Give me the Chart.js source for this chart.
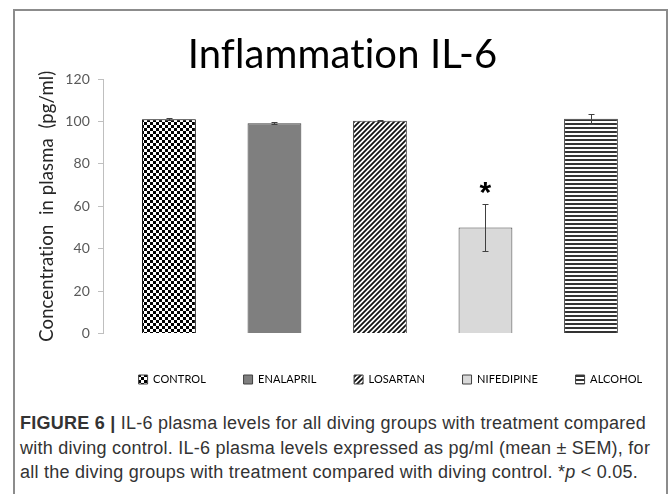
<!DOCTYPE html>
<html lang="en">
<head>
<meta charset="UTF-8">
<title>Inflammation IL-6</title>
<script src="https://cdn.jsdelivr.net/npm/chart.js"></script>
<style>
  body { margin: 0; background: #fff; width: 670px; height: 494px; overflow: hidden; position: relative; }
  .frame { position: absolute; left: 13px; top: 9px; width: 651px; height: 500px; border: 2px solid #8c8c8c; border-bottom: none; }
  #chart { position: absolute; left: 15px; top: 11px; }
  .caption { position: absolute; left: 20px; top: 411px; font-family: "Liberation Sans", Arial, sans-serif; font-size: 18px; letter-spacing: 0.25px; line-height: 24.5px; color: #333; white-space: nowrap; }
</style>
</head>
<body>
<div class="frame"></div>
<canvas id="chart" width="655" height="389"></canvas>
<div class="caption"><b>FIGURE 6 |</b> IL-6 plasma levels for all diving groups with treatment compared<br>with diving control. IL-6 plasma levels expressed as pg/ml (mean ± SEM), for<br>all the diving groups with treatment compared with diving control. *<i>p</i> &lt; 0.05.</div>
<script>
// values
const categories = ['CONTROL', 'ENALAPRIL', 'LOSARTAN', 'NIFEDIPINE', 'ALCOHOL'];
const means = [101.0, 99.1, 100.3, 50.0, 101.2];
const sem = [0.5, 0.5, 0.3, 11.2, 2.4];
const marks = ['', '', '', '*', ''];
const yTicks = [0, 20, 40, 60, 80, 100, 120];

const ctx = document.getElementById('chart').getContext('2d');

function tile(w, h, draw) {
  const c = document.createElement('canvas');
  c.width = w; c.height = h;
  const g = c.getContext('2d');
  g.fillStyle = '#fff';
  g.fillRect(0, 0, w, h);
  draw(g);
  return ctx.createPattern(c, 'repeat');
}

const checker = tile(6, 6, g => {
  g.fillStyle = '#000';
  g.fillRect(0, 0, 3, 3);
  g.fillRect(3, 3, 3, 3);
});
const diagonal = tile(5, 5, g => {
  g.strokeStyle = '#111';
  g.lineWidth = 1.8;
  g.beginPath();
  g.moveTo(0, 5); g.lineTo(5, 0);
  g.moveTo(-1, 1); g.lineTo(1, -1);
  g.moveTo(4, 6); g.lineTo(6, 4);
  g.stroke();
});
const horizontal = tile(1, 4, g => {
  g.fillStyle = '#333';
  g.fillRect(0, 0, 1, 2);
});

const fills = [checker, '#7f7f7f', diagonal, '#d9d9d9', horizontal];
const borders = ['#000', '#404040', '#404040', '#404040', '#404040'];

// no ligatures in the Lato title ("ti")
const noLigatures = {
  id: 'noLigatures',
  beforeDraw(chart) { chart.ctx.letterSpacing = '0.1px'; }
};

// legend row starts under the first bar, not at the canvas edge
const legendShift = {
  id: 'legendShift',
  afterLayout(chart) {
    chart.legend.left += 86;
    chart.legend.right += 86;
  }
};

const errorBars = {
  id: 'errorBars',
  afterDatasetsDraw(chart) {
    const y = chart.scales.y;
    const meta = chart.getDatasetMeta(0);
    const c = chart.ctx;
    c.save();
    c.strokeStyle = '#404040';
    c.lineWidth = 1;
    meta.data.forEach((bar, i) => {
      const top = Math.round(y.getPixelForValue(means[i] + sem[i])) + 0.5;
      const bot = Math.round(y.getPixelForValue(means[i] - sem[i])) + 0.5;
      const x = Math.round(bar.x) + 0.5;
      c.beginPath();
      c.moveTo(x, top); c.lineTo(x, bot);
      c.moveTo(x - 3, top); c.lineTo(x + 3, top);
      c.moveTo(x - 3, bot); c.lineTo(x + 3, bot);
      c.stroke();
      if (marks[i]) {
        c.fillStyle = '#000';
        c.font = 'bold 30px "Liberation Sans", Arial, sans-serif';
        c.textAlign = 'center';
        c.textBaseline = 'alphabetic';
        const m = c.measureText(marks[i]);
        const centre = top - 17;
        c.fillText(marks[i], x, centre + (m.actualBoundingBoxAscent - m.actualBoundingBoxDescent) / 2);
      }
    });
    c.restore();
  }
};

new Chart(ctx, {
  type: 'bar',
  data: {
    datasets: [{
      data: means.map((v, i) => ({ x: i, y: v })),
      backgroundColor: fills,
      borderColor: borders,
      borderWidth: 1,
      barPercentage: 0.51,
      categoryPercentage: 1
    }]
  },
  options: {
    responsive: false,
    animation: false,
    layout: { padding: { left: 0, right: 0, top: 0, bottom: 5 } },
    scales: {
      x: {
        type: 'linear',
        offset: false,
        min: -0.625,
        max: 4.749,
        afterBuildTicks: s => { s.ticks = categories.map((c, i) => ({ value: i })); },
        afterFit: s => { s.height = 3; },
        ticks: { display: false },
        grid: { display: false },
        border: { display: false }
      },
      y: {
        min: 0,
        max: 120,
        afterBuildTicks: s => { s.ticks = yTicks.map(v => ({ value: v })); },
        afterFit: s => { s.width = 88; },
        ticks: { color: '#595959', padding: 8, font: { family: 'Lato', size: 14 } },
        grid: { drawOnChartArea: false, tickLength: 5, color: '#bfbfbf' },
        border: { color: '#bfbfbf' },
        title: {
          display: true,
          text: 'Concentration  in plasma  (pg/ml)',
          color: '#262626',
          font: { family: 'Lato', size: 18.5 },
          padding: { top: 21, bottom: 0 }
        }
      }
    },
    plugins: {
      title: {
        display: true,
        text: 'Inflammation IL-6',
        color: '#000',
        font: { family: 'Lato', size: 40, weight: 'normal' },
        padding: { top: 20, bottom: 0 }
      },
      legend: {
        position: 'bottom',
        align: 'start',
        fullSize: true,
        labels: {
          boxWidth: 9,
          boxHeight: 9,
          padding: 37.6,
          color: '#404040',
          font: { family: 'Lato', size: 11 },
          generateLabels: () => categories.map((c, i) => ({
            text: c, fillStyle: fills[i], strokeStyle: '#404040', lineWidth: 1, hidden: false, index: i
          }))
        }
      },
      tooltip: { enabled: false }
    }
  },
  plugins: [noLigatures, legendShift, errorBars]
});
</script>
</body>
</html>
